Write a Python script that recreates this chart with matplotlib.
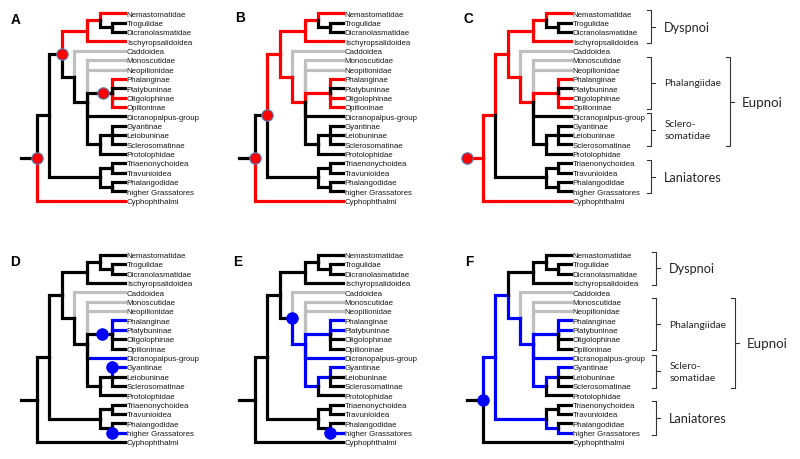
import matplotlib
matplotlib.use("Agg")
import matplotlib.pyplot as plt

# ---------- dati: taxa (foglie, dall'alto in basso) ----------
leaves = [
    "Nemastomatidae", "Trogulidae", "Dicranolasmatidae", "Ischyropsalidoidea",
    "Caddoidea", "Monoscutidae", "Neopilionidae", "Phalanginae", "Platybuninae",
    "Oligolophinae", "Opilioninae", "Dicranopalpus-group", "Gyantinae",
    "Leiobuninae", "Sclerosomatinae", "Protolophidae", "Triaenonychoidea",
    "Travunioidea", "Phalangodidae", "higher Grassatores", "Cyphophthalmi",
]

# nodi interni: nome -> (livello, figli)
clades = {
    "root": (0, ["Phalangida", "Cyphophthalmi"]),
    "Phalangida": (1, ["Palpatores", "Laniatores"]),
    "Palpatores": (2, ["Dyspnoi", "EupCadd"]),
    "Dyspnoi": (4, ["Troguloidea", "Ischyropsalidoidea"]),
    "Troguloidea": (5, ["Nemastomatidae", "TD"]),
    "TD": (6, ["Trogulidae", "Dicranolasmatidae"]),
    "EupCadd": (3, ["Caddoidea", "Eupnoi"]),
    "Eupnoi": (4, ["Monoscutidae", "Neopilionidae", "Phalangiidae",
                   "Dicranopalpus-group", "ScP"]),
    "Phalangiidae": (6, ["Phalanginae", "Platybuninae", "Oligolophinae", "Opilioninae"]),
    "ScP": (5, ["GLS", "Protolophidae"]),
    "GLS": (6, ["Gyantinae", "Leiobuninae", "Sclerosomatinae"]),
    "Laniatores": (5, ["TT", "PhG"]),
    "TT": (6, ["Triaenonychoidea", "Travunioidea"]),
    "PhG": (6, ["Phalangodidae", "higher Grassatores"]),
}
leaf_level = 7
stub_level = -1.2

grey_taxa = ["Caddoidea", "Monoscutidae", "Neopilionidae"]

# rami evidenziati per pannello (il nome indica il ramo che porta a quel nodo)
red_A = ["Cyphophthalmi", "Dyspnoi", "Troguloidea", "Nemastomatidae",
         "Ischyropsalidoidea", "Phalanginae", "Oligolophinae", "Opilioninae"]
red_B = red_A + ["Palpatores", "EupCadd", "Eupnoi", "Phalangiidae"]
red_C = red_B + ["root", "Phalangida"]
blue_D = ["Phalanginae", "Platybuninae", "Dicranopalpus-group", "Gyantinae",
          "higher Grassatores"]
blue_E = blue_D + ["Eupnoi", "Phalangiidae", "ScP", "GLS"]
blue_F = blue_E + ["Phalangida", "Palpatores", "EupCadd", "Laniatores", "PhG"]

# pallini: (ramo, posizione) -> 'node' = sul nodo, 'start' = inizio ramo,
# 'corner' = angolo del ramo, numero = livello lungo il tratto orizzontale
dots_A = [("root", "node"), ("Palpatores", "node"), ("Phalangiidae", 5.3)]
dots_B = [("root", "node"), ("Phalangida", "node")]
dots_C = [("root", "start")]
dots_D = [("Phalangiidae", 5.2), ("Gyantinae", "corner"), ("higher Grassatores", "corner")]
dots_E = [("EupCadd", "node"), ("higher Grassatores", "corner")]
dots_F = [("root", "node")]

# gruppi (parentesi): etichetta, prima foglia, ultima foglia
group_labels = ["Dyspnoi", "Phalangiidae", "Sclero-\nsomatidae", "Laniatores"]
group_first = [0, 5, 11, 16]
group_last = [3, 10, 14, 19]
group_big = [True, False, False, True]
outer_label, outer_first, outer_last = "Eupnoi", 5, 14

# ---------- layout ----------
W, H = 800, 460
dx, dy = 12.6, 9.37          # px per livello / per foglia
x0_px, y0_px = 36.5, 14.3    # radice e prima foglia nel pannello
RED, BLUE, GREY, BLACK = "#ff0000", "#0000ff", "#bfbfbf", "#000000"
LW = 2.3
plt.rcParams["font.family"] = ["Liberation Sans", "DejaVu Sans"]

panels = [
    dict(letter="A", left=0, top=0, w=222, col=RED, hi=red_A, dots=dots_A, br=None, lx=16, ly=19.5),
    dict(letter="B", left=218, top=0, w=222, col=RED, hi=red_B, dots=dots_B, br=None, lx=240, ly=18.5),
    dict(letter="C", left=446, top=0, w=354, col=RED, hi=red_C, dots=dots_C, br=0.0, lx=468, ly=19),
    dict(letter="D", left=0, top=241.5, w=222, col=BLUE, hi=blue_D, dots=dots_D, br=None, lx=15, ly=261.5),
    dict(letter="E", left=218, top=241.5, w=222, col=BLUE, hi=blue_E, dots=dots_E, br=None, lx=238, ly=261.5),
    dict(letter="F", left=446, top=241.5, w=354, col=BLUE, hi=blue_F, dots=dots_F, br=0.4, lx=469, ly=261.5),
]
PH = 218


# ---------- geometria dell'albero ----------
pos = {}
parent = {}


def layout(name):
    if name in leaves:
        pos[name] = (leaf_level, leaves.index(name))
        return pos[name]
    lvl, kids = clades[name]
    ys = []
    for k in kids:
        parent[k] = name
        ys.append(layout(k)[1])
    pos[name] = (lvl, (min(ys) + max(ys)) / 2.0)
    return pos[name]


layout("root")


def edge_path(name):
    cx, cy = pos[name]
    if name == "root":
        return [stub_level, cx], [cy, cy]
    px, py = pos[parent[name]]
    return [px, px, cx], [py, cy, cy]


fig = plt.figure(figsize=(W / 100, H / 100), dpi=100)

for p in panels:
    ax = fig.add_axes([p["left"] / W, 1 - (p["top"] + PH) / H, p["w"] / W, PH / H])
    ax.set_xlim(-x0_px / dx, (p["w"] - x0_px) / dx)
    ax.set_ylim((PH - y0_px) / dy, -y0_px / dy)
    ax.axis("off")

    for name in pos:
        if name in grey_taxa:
            c, z = GREY, 1
        elif name in p["hi"]:
            c, z = p["col"], 2
        else:
            c, z = BLACK, 3
        xs, ys = edge_path(name)
        ax.plot(xs, ys, color=c, lw=LW, zorder=z, solid_capstyle="projecting",
                solid_joinstyle="miter", clip_on=False)

    for lf in leaves:
        ax.text(leaf_level + 0.17, pos[lf][1] + 0.08, lf, fontsize=5.65,
                color="#1a1a1a", va="center", ha="left")

    for name, where in p["dots"]:
        xs, ys = edge_path(name)
        if where == "node":
            dxp, dyp = xs[-1], ys[-1]
        elif where == "start":
            dxp, dyp = xs[0], ys[0]
        elif where == "corner":
            dxp, dyp = xs[-2], ys[-2]
        else:
            dxp, dyp = where, ys[-1]
        ax.plot([dxp], [dyp], "o", ms=8.2, mfc=p["col"],
                mec="#4f81bd" if p["col"] == RED else BLUE, mew=0.8,
                zorder=5, clip_on=False)

    if p["br"] is not None:
        s = p["br"]
        bx, tick = 13.37 + s, 0.35
        for lab, a, b, big in zip(group_labels, group_first, group_last, group_big):
            y1, y2 = a - 0.35, b + 0.2
            ym = (y1 + y2) / 2
            ax.plot([bx - tick, bx, bx, bx - tick], [y1, y1, y2, y2], color="#333333",
                    lw=0.8, clip_on=False)
            ax.plot([bx, bx + tick], [ym, ym], color="#333333", lw=0.8, clip_on=False)
            ax.text(bx + 1.05, ym, lab, fontsize=9.1 if big else 7.4, color="#262626",
                    va="center", ha="left", family=["Lato", "DejaVu Sans"],
                    linespacing=1.45)
        ox = 19.64 + s
        y1, y2 = outer_first - 0.35, outer_last + 0.2
        ym = (y1 + y2) / 2
        ax.plot([ox - tick, ox, ox, ox - tick], [y1, y1, y2, y2], color="#333333",
                lw=0.8, clip_on=False)
        ax.plot([ox, ox + tick], [ym, ym], color="#333333", lw=0.8, clip_on=False)
        ax.text(ox + 0.95, ym, outer_label, fontsize=9.6, color="#262626",
                va="center", ha="left", family=["Lato", "DejaVu Sans"])

    fig.text(p["lx"] / W, 1 - p["ly"] / H, p["letter"], fontsize=9.8,
             fontweight="bold", ha="center", va="center")

fig.savefig("out.png", dpi=100)
